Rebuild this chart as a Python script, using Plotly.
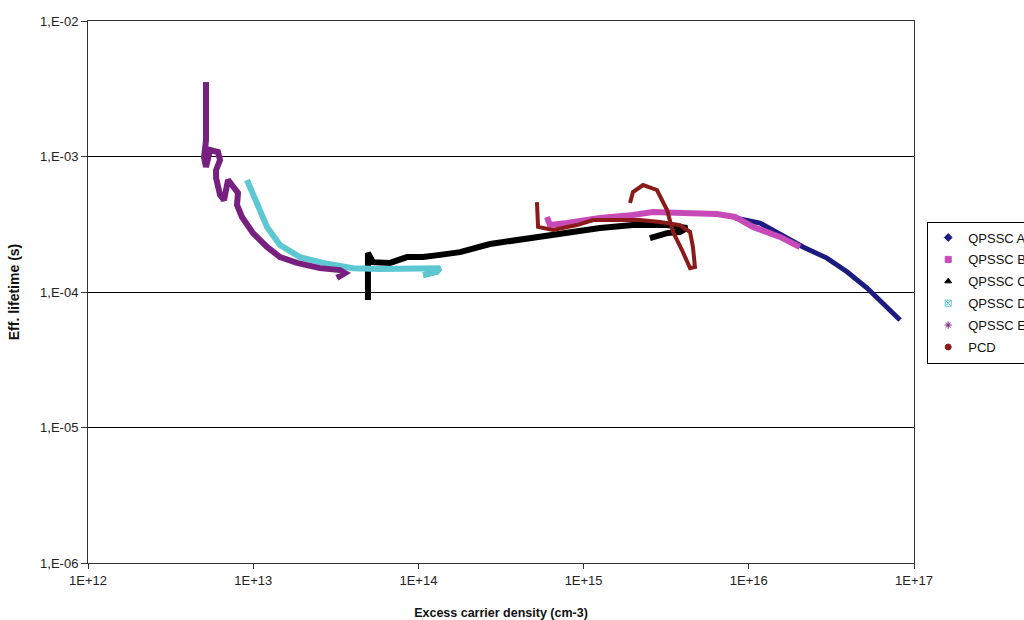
import plotly.graph_objects as go

# ---- data (x: excess carrier density cm-3, y: eff. lifetime s)
a_x = [8.26e15, 1.169e16, 1.289e16, 2.13e16, 2.97e16, 3.93e16, 5.20e16, 8.23e16]
a_y = [3.52e-4, 3.23e-4, 3.02e-4, 2.15e-4, 1.78e-4, 1.41e-4, 1.07e-4, 6.21e-5]

b_x = [6.00e14, 6.26e14, 7.94e14, 1.257e15, 1.99e15, 2.63e15, 4.00e15, 6.42e15, 8.26e15, 1.06e16, 1.545e16, 2.04e16]
b_y = [3.58e-4, 3.12e-4, 3.23e-4, 3.52e-4, 3.70e-4, 3.89e-4, 3.83e-4, 3.76e-4, 3.58e-4, 3.02e-4, 2.55e-4, 2.15e-4]

c_x = [4.95e13, 4.95e13, 4.95e13, 5.31e13, 6.73e13, 8.53e13, 1.066e14, 1.351e14, 1.786e14, 2.71e14,
       4.94e14, 7.94e14, 1.257e15, 1.99e15, 3.20e15, 4.23e15, 3.83e15, 3.20e15, 2.52e15]
c_y = [8.73e-5, 1.23e-4, 1.94e-4, 1.66e-4, 1.64e-4, 1.81e-4, 1.81e-4, 1.88e-4, 1.97e-4, 2.26e-4,
       2.50e-4, 2.77e-4, 2.97e-4, 3.12e-4, 3.12e-4, 2.97e-4, 2.77e-4, 2.72e-4, 2.50e-4]

d_x = [9.17e12, 1.054e13, 1.212e13, 1.453e13, 1.919e13, 2.646e13, 4.02e13, 5.86e13, 8.53e13, 1.225e14, 1.351e14, 1.296e14, 1.066e14]
d_y = [6.71e-4, 4.54e-4, 3.02e-4, 2.22e-4, 1.81e-4, 1.64e-4, 1.50e-4, 1.48e-4, 1.50e-4, 1.53e-4, 1.50e-4, 1.41e-4, 1.33e-4]

e_x = [5.18e12, 5.18e12, 5.11e12, 5.18e12, 5.04e12, 5.18e12, 5.48e12, 6.12e12, 6.30e12, 5.96e12, 5.96e12, 6.30e12, 6.66e12,
       7.04e12, 7.44e12, 8.09e12, 7.98e12, 8.55e12, 9.97e12, 1.212e13, 1.453e13, 1.841e13, 2.537e13, 3.35e13, 3.60e13, 3.21e13]
e_y = [3.55e-3, 2.61e-3, 1.86e-3, 1.32e-3, 9.9e-4, 8.37e-4, 1.117e-3, 1.08e-3, 9.42e-4, 7.95e-4, 6.94e-4, 5.20e-4, 4.77e-4,
       6.71e-4, 6.16e-4, 5.38e-4, 4.39e-4, 3.58e-4, 2.72e-4, 2.15e-4, 1.81e-4, 1.64e-4, 1.50e-4, 1.45e-4, 1.38e-4, 1.27e-4]

pcd_x = [5.22e14, 5.30e14, 6.53e14, 7.94e14, 9.12e14, 1.140e15, 1.593e15, 2.19e15, 2.90e15, 3.83e15, 4.41e15, 4.59e15,
         4.72e15, 4.41e15, 3.94e15, 3.48e15, 3.20e15, 2.78e15, 2.29e15, 1.99e15, 1.91e15]
pcd_y = [4.61e-4, 3.02e-4, 2.87e-4, 3.02e-4, 3.12e-4, 3.40e-4, 3.40e-4, 3.40e-4, 3.29e-4, 3.12e-4, 2.77e-4, 2.15e-4,
         1.53e-4, 1.50e-4, 2.04e-4, 2.77e-4, 4.03e-4, 5.66e-4, 6.16e-4, 5.47e-4, 4.54e-4]

names = ["QPSSC A", "QPSSC B", "QPSSC C", "QPSSC D", "QPSSC E", "PCD"]
colors = ["#1c1c80", "#c84ab8", "#000000", "#5ec8d2", "#782080", "#8b1a1a"]
symbols = ["diamond", "square", "triangle-up", "square-x-open", "asterisk-open", "circle"]
widths = [5, 6, 6, 6, 6, 4]
series = [(a_x, a_y), (b_x, b_y), (c_x, c_y), (d_x, d_y), (e_x, e_y), (pcd_x, pcd_y)]

x_tickvals = [1e12, 1e13, 1e14, 1e15, 1e16, 1e17]
x_ticktext = ["1E+12", "1E+13", "1E+14", "1E+15", "1E+16", "1E+17"]
y_tickvals = [1e-6, 1e-5, 1e-4, 1e-3, 1e-2]
y_ticktext = ["1,E-06", "1,E-05", "1,E-04", "1,E-03", "1,E-02"]

fig = go.Figure()
for (sx, sy), c, w in zip(series, colors, widths):
    fig.add_trace(go.Scatter(x=sx, y=sy, mode="lines", line=dict(color=c, width=w),
                             showlegend=False, hoverinfo="skip"))
for n, c, s in zip(names, colors, symbols):
    fig.add_trace(go.Scatter(x=[None], y=[None], mode="markers", name=n, legendgroup=n,
                             marker=dict(color=c, symbol=s, size=6, line=dict(color=c, width=1))))

font = "Liberation Sans, Arial, sans-serif"
fig.update_layout(
    width=1024, height=620,
    margin=dict(l=88, r=110, t=21, b=57, autoexpand=False),
    paper_bgcolor="white", plot_bgcolor="white",
    font=dict(family=font, size=13, color="#222"),
    showlegend=True,
    legend=dict(x=1.016, xanchor="left", y=0.63, yanchor="top",
                bordercolor="#000", borderwidth=1, bgcolor="white",
                font=dict(size=13, color="#111", family=font),
                traceorder="grouped", tracegroupgap=2, itemwidth=30),
    xaxis=dict(type="log", range=[12, 17], tickvals=x_tickvals, ticktext=x_ticktext,
               showgrid=False, showline=True, linecolor="#333", linewidth=1, mirror=True,
               ticks="outside", ticklen=5, tickcolor="#333", zeroline=False,
               title=dict(text="<b>Excess carrier density (cm-3)</b>", font=dict(size=12.5, color="#111"), standoff=21)),
    yaxis=dict(type="log", range=[-6, -2], tickvals=y_tickvals, ticktext=y_ticktext,
               showgrid=True, gridcolor="#000", gridwidth=1,
               showline=True, linecolor="#333", linewidth=1, mirror=True,
               ticks="outside", ticklen=6, tickcolor="#333", zeroline=False,
               title=dict(text="<b>Eff. lifetime (s)</b>", font=dict(size=14, color="#111"), standoff=17)),
)

fig.write_html("out.html", config={"displayModeBar": False},
               post_script="document.body.style.margin='0px';")
